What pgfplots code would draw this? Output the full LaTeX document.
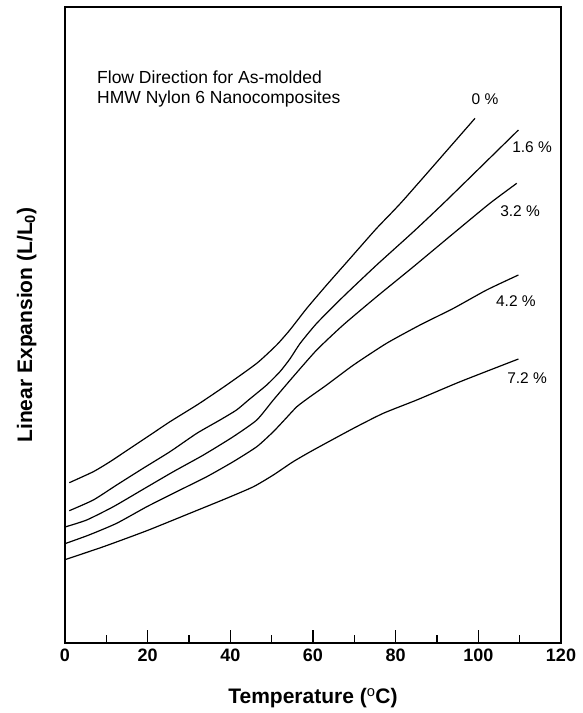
\documentclass[border=0pt]{standalone}
\usepackage{fontspec}
\setmainfont{Liberation Sans}
\usepackage{pgfplots}
\pgfplotsset{compat=1.18}
\begin{document}
\begin{tikzpicture}
\begin{axis}[
  scale only axis, width=496pt, height=636pt,
  xmin=0, xmax=120, ymin=0, ymax=636,
  xtick={0,20,...,120}, minor x tick num=1,
  xtick pos=bottom, ytick=\empty,
  tick align=inside, major tick length=13pt, minor tick length=8.5pt,
  tick style={black, line width=1.2pt},
  axis line style={line width=1.5pt},
  /pgf/number format/assume math mode=true,
  xticklabel style={font=\fontsize{18}{20}\selectfont\bfseries, yshift=-2pt},
  xlabel={Temperature ($^{\mathrm{o}}$C)},
  xlabel style={font=\fontsize{21}{24}\selectfont\bfseries, yshift=-20pt},
  ylabel={Linear Expansion (L/L$_{\mathbf{0}}$)},
  ylabel style={font=\fontsize{21}{24}\selectfont\bfseries, yshift=25pt},
  every axis plot post/.append style={black, line width=1.2pt, smooth, tension=0.35, mark=none},
  clip=false,
]
% 0 %
\addplot coordinates {(1.04,160.3)(6.85,171.3)(10.9,181.3)(14.9,192.3)(20.6,208)(25.4,221.3)(32.3,239)(39.1,258)(46.4,279.7)(51.2,298)(54.4,313)(58.5,334.7)(63.3,358)(69.0,384.7)(75.4,414.7)(81.9,443)(99.2,524.7)};
% 1.6 %
\addplot coordinates {(1.04,132.3)(6.85,143)(12.5,158)(18.9,174.7)(25.4,191.3)(31.9,209.7)(37.5,223)(41.5,233)(44.4,243)(48.8,258)(52.0,271.3)(54.4,284)(56.9,299.7)(60.9,319.7)(67.3,346.3)(75.4,378)(84.3,411.3)(92.4,443)(109.7,513)};
% 3.2 %
\addplot coordinates {(0.24,116.3)(5.25,123)(11.7,136.3)(18.9,153.7)(26.2,171.3)(33.5,188)(40.7,206.3)(46.4,223)(50.4,243)(55.2,266.3)(60.9,293)(67.3,318)(75.4,346.3)(84.3,376.3)(94.0,409.7)(102.8,439.7)(109.3,459.7)};
% 4.2 %
\addplot coordinates {(0.24,99.7)(5.8,108)(12.5,119.7)(19.8,136.3)(27.0,151.3)(34.3,166.3)(40.7,181.3)(46.4,196.3)(50.4,211.3)(53.3,224)(56.1,236.3)(59.2,246)(63.3,258)(69.8,278)(77.8,299.7)(85.9,318)(94.0,334.7)(102.0,353)(109.7,368)};
% 7.2 %
\addplot coordinates {(0.24,83.7)(9.3,96.3)(19.8,112.3)(30.2,129.7)(39.1,144.7)(45.6,156.3)(50.4,168)(55.2,181.3)(60.1,193)(69.8,214.7)(77.0,229.7)(85.1,243)(95.6,261.3)(109.7,284)};
\node[font=\fontsize{15.5}{18}\selectfont] at (axis cs:101.6,544) {0 \%};
\node[font=\fontsize{15.5}{18}\selectfont] at (axis cs:113.0,496) {1.6 \%};
\node[font=\fontsize{15.5}{18}\selectfont] at (axis cs:110.1,432) {3.2 \%};
\node[font=\fontsize{15.5}{18}\selectfont] at (axis cs:109.1,342) {4.2 \%};
\node[font=\fontsize{15.5}{18}\selectfont] at (axis cs:111.8,265) {7.2 \%};
\node[font=\fontsize{17.5}{19.5}\selectfont, anchor=west, align=left, inner sep=0pt] at (axis cs:7.74,554) {Flow Direction for As-molded\\HMW Nylon 6 Nanocomposites};
\end{axis}
\path (current axis.south west) ++(-65pt,-70pt) coordinate (bl);
\path (current axis.north east) ++(22pt,7pt) coordinate (tr);
\useasboundingbox (bl) rectangle (tr);
\end{tikzpicture}
\end{document}
